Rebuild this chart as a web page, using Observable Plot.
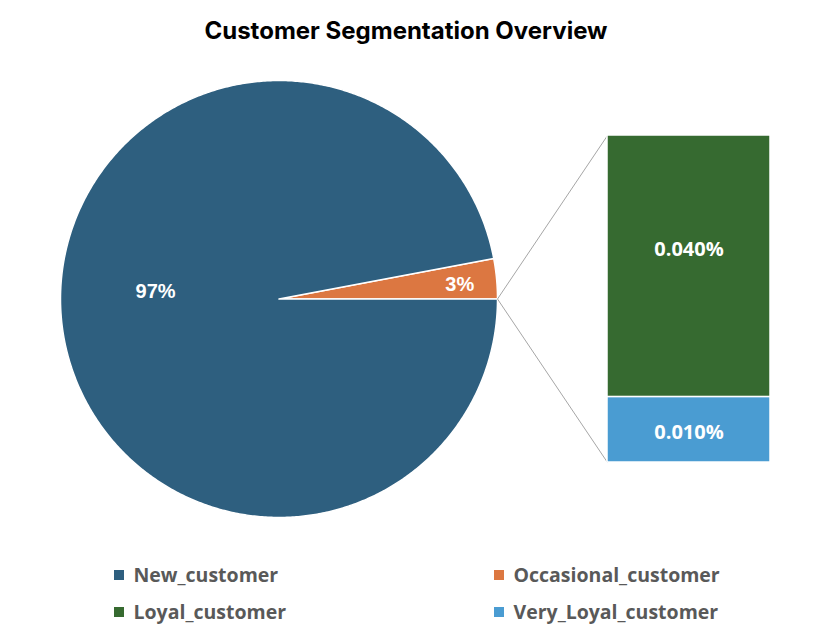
<!DOCTYPE html>
<html><head><meta charset="utf-8">
<script src="https://cdn.jsdelivr.net/npm/d3@7"></script>
<script src="https://cdn.jsdelivr.net/npm/@observablehq/plot@0.6"></script>
<style>body{margin:0;background:#fff}</style>
</head><body><div id="chart"></div>
<script>
const title = "Customer Segmentation Overview";
const categories = ["New_customer", "Occasional_customer", "Loyal_customer", "Very_Loyal_customer"];
const colors = ["#2E5F7F", "#DC7741", "#366A30", "#4A9CD2"];
const pieCategories = ["Occasional_customer", "New_customer"];
const pieShares = [0.0297, 0.9698];
const pieLabelFrac = [0.43, 0.475];
const barCategories = ["Loyal_customer", "Very_Loyal_customer"];
const barShares = [0.0004, 0.0001];
const barLabelFrac = [0.436, 0.54];

const W = 830, H = 638;
const cx = 278.5, cy = 298.5, r = 218.5;
const barX1 = 607, barX2 = 770, barTop = 135, barBottom = 462;

// pie slice polygons (angles counter-clockwise from east)
const pieTotal = d3.sum(pieShares);
const piePts = [], pieLbl = [];
let a0 = 0;
pieCategories.forEach((c, i) => {
  const a1 = a0 + pieShares[i] / pieTotal * 2 * Math.PI;
  piePts.push({cat: c, x: cx, y: cy});
  const n = Math.max(4, Math.ceil((a1 - a0) / (Math.PI / 360)));
  for (let k = 0; k <= n; k++) {
    const a = a0 + (a1 - a0) * k / n;
    piePts.push({cat: c, x: cx + r * Math.cos(a), y: cy - r * Math.sin(a)});
  }
  piePts.push({cat: c, x: cx, y: cy});
  const am = a0 + (a1 - a0) * pieLabelFrac[i];
  const rf = i === 0 ? 0.83 : 0.566;
  pieLbl.push({x: cx + rf * r * Math.cos(am), y: cy - rf * r * Math.sin(am), text: d3.format(".0%")(pieShares[i])});
  a0 = a1;
});

// bar of pie
const barTotal = d3.sum(barShares);
const bs = d3.scaleLinear([0, barTotal], [barTop, barBottom]);
let acc = 0;
const bars = barCategories.map((c, i) => {
  const y1 = bs(acc), y2 = bs(acc + barShares[i]);
  const d = {cat: c, x1: barX1, x2: barX2, y1, y2, ly: y1 + (y2 - y1) * barLabelFrac[i], text: d3.format(".3%")(barShares[i])};
  acc += barShares[i];
  return d;
});

const links = [
  {x1: cx + r, y1: cy, x2: barX1, y2: barTop},
  {x1: cx + r, y1: cy, x2: barX1, y2: barBottom}
];

// legend layout
const legCols = [114, 494], legRows = [575, 612];
const legend = categories.map((c, i) => ({cat: c, x: legCols[i % 2], y: legRows[Math.floor(i / 2)]}));

const font = "Liberation Sans, Arial, sans-serif";
const chart = Plot.plot({
  width: W, height: H,
  margin: 0,
  x: {domain: [0, W], range: [0, W], axis: null},
  y: {domain: [0, H], range: [0, H], axis: null},
  color: {domain: categories, range: colors},
  style: {background: "#fff"},
  marks: [
    Plot.line(piePts, {x: "x", y: "y", z: "cat", fill: "cat", stroke: "white", strokeWidth: 1.5, strokeLinejoin: "round"}),
    Plot.link(links, {x1: "x1", y1: "y1", x2: "x2", y2: "y2", stroke: "#A6A6A6", strokeWidth: 1}),
    Plot.rect(bars, {x1: "x1", x2: "x2", y1: "y1", y2: "y2", fill: "cat", stroke: "white", strokeWidth: 1.5}),
    Plot.text(pieLbl, {x: "x", y: "y", text: "text", fill: "white", fontSize: 20, fontWeight: "bold", fontFamily: font}),
    Plot.text(bars, {x: d => (d.x1 + d.x2) / 2, y: "ly", text: "text", fill: "white", fontSize: 20, fontWeight: "bold", fontFamily: "Open Sans, sans-serif"}),
    Plot.rect(legend, {x1: d => d.x, x2: d => d.x + 10, y1: d => d.y - 5, y2: d => d.y + 5, fill: "cat"}),
    Plot.text(legend, {x: d => d.x + 19, y: "y", text: "cat", textAnchor: "start", fill: "#595959", fontSize: 19.5, fontWeight: "bold", fontFamily: "Open Sans, sans-serif"}),
    Plot.text([title], {x: () => 405.5, y: () => 31, text: d => d, fill: "black", fontSize: 24, fontWeight: "bold", fontFamily: "Inter, sans-serif"})
  ]
});
document.getElementById("chart").append(chart);
</script>
</body></html>
